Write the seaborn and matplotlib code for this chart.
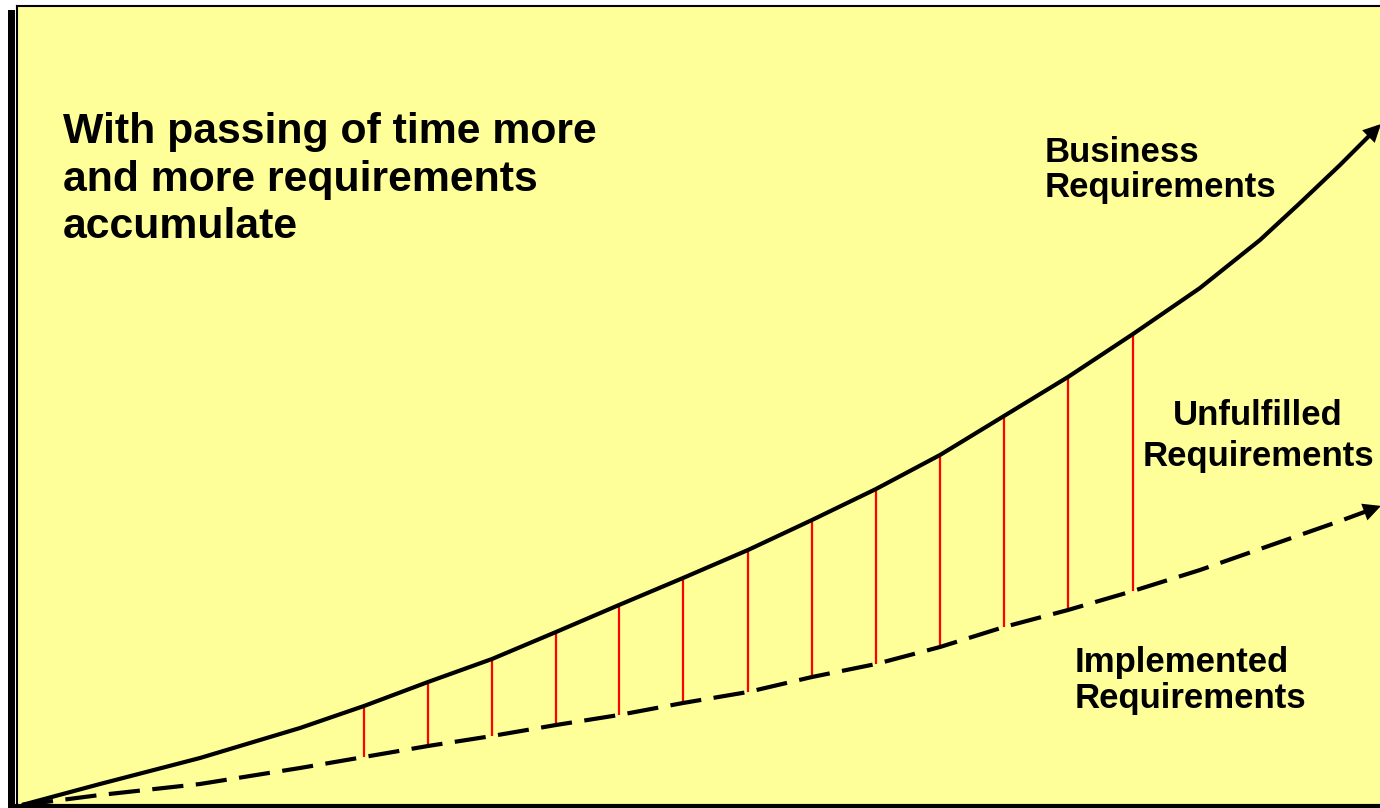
import matplotlib
matplotlib.use("Agg")
import matplotlib.pyplot as plt
from matplotlib.patches import Rectangle
import seaborn as sns
import pandas as pd

# ---- data (time axis in arbitrary units, requirement counts in arbitrary units)
time = [22, 100, 200, 300, 364, 428, 492, 556, 619, 683, 748, 812, 876, 940,
        1004, 1068, 1133, 1200, 1260, 1300, 1340, 1378]
business = [1, 22, 48, 78, 100, 124, 147, 174, 201, 228, 256, 286, 317, 351,
            390, 429, 472, 518, 566, 603, 641, 679]
implemented = [1, 11, 22, 38, 49, 60, 70, 81, 91, 103, 114, 129, 142, 159,
               179, 196, 215, 236, 257, 271, 285, 299]
gap_times = [364, 428, 492, 556, 619, 683, 748, 812, 876, 940, 1004, 1068, 1133]

title_text = "With passing of time more\nand more requirements\naccumulate"
label_business = "Business\nRequirements"
label_unfulfilled = "Unfulfilled\nRequirements"
label_implemented = "Implemented\nRequirements"

sns.set_theme(style="white")
plt.rcParams["font.family"] = ["Liberation Sans", "DejaVu Sans"]

W, H = 1380, 808
fig = plt.figure(figsize=(W / 100, H / 100), dpi=100)
fig.patch.set_facecolor("white")

ax_left, ax_right = 16.5, 1385
ax_top, ax_bottom = 5.5, 806
ax = fig.add_axes([ax_left / W, (H - ax_bottom) / H,
                   (ax_right - ax_left) / W, (ax_bottom - ax_top) / H])
ax.set_facecolor("#FFFF99")

df = pd.DataFrame({"time": time, "business": business, "implemented": implemented})

sns.lineplot(data=df, x="time", y="business", ax=ax, color="black", lw=3,
             solid_capstyle="butt", solid_joinstyle="round")
sns.lineplot(data=df, x="time", y="implemented", ax=ax, color="black", lw=3,
             linestyle=(0, (7.5, 3)), dash_capstyle="butt")

# red gap lines between the two curves
lookup_b = dict(zip(time, business))
lookup_i = dict(zip(time, implemented))
ax.vlines(gap_times, [lookup_i[t] for t in gap_times], [lookup_b[t] for t in gap_times],
          color="red", lw=1.6, zorder=1)

# arrowheads
for series in (business, implemented):
    slope = (series[-1] - series[-2]) / (time[-1] - time[-2])
    ax.annotate("", xy=(time[-1] + 3, series[-1] + slope * 3),
                xytext=(time[-2], series[-2]),
                arrowprops=dict(arrowstyle="-|>", color="black", lw=0,
                                mutation_scale=32, shrinkA=0, shrinkB=0))

ax.set_xlim(ax_left, ax_right)
ax.set_ylim(0, ax_bottom - ax_top)
ax.set_xticks([])
ax.set_yticks([])
ax.set_xlabel("")
ax.set_ylabel("")
for side in ("top", "left", "bottom"):
    ax.spines[side].set_visible(True)
    ax.spines[side].set_color("black")
ax.spines["top"].set_linewidth(1.5)
ax.spines["left"].set_linewidth(1.5)
ax.spines["bottom"].set_linewidth(3)
ax.spines["right"].set_visible(False)

# shadow bar on the left
fig.patches.append(Rectangle((8 / W, 0), 7 / W, (H - 10) / H,
                             transform=fig.transFigure, facecolor="black",
                             edgecolor="none", zorder=0))

def fx(px):
    return px / W

def fy(py):
    return (H - py) / H

# va="baseline" anchors the last line's baseline
fig.text(fx(63), fy(238.5), title_text, fontsize=30.8, fontweight="bold",
         ha="left", va="baseline", linespacing=1.245, color="black")
fig.text(fx(1045), fy(197), label_business, fontsize=25, fontweight="bold",
         ha="left", va="baseline", linespacing=1.08, color="black")
fig.text(fx(1258), fy(466), label_unfulfilled, fontsize=25, fontweight="bold",
         ha="center", va="baseline", linespacing=1.315, multialignment="center",
         color="black")
fig.text(fx(1075), fy(708), label_implemented, fontsize=25, fontweight="bold",
         ha="left", va="baseline", linespacing=1.1, color="black")

fig.savefig("out.png", dpi=100)
